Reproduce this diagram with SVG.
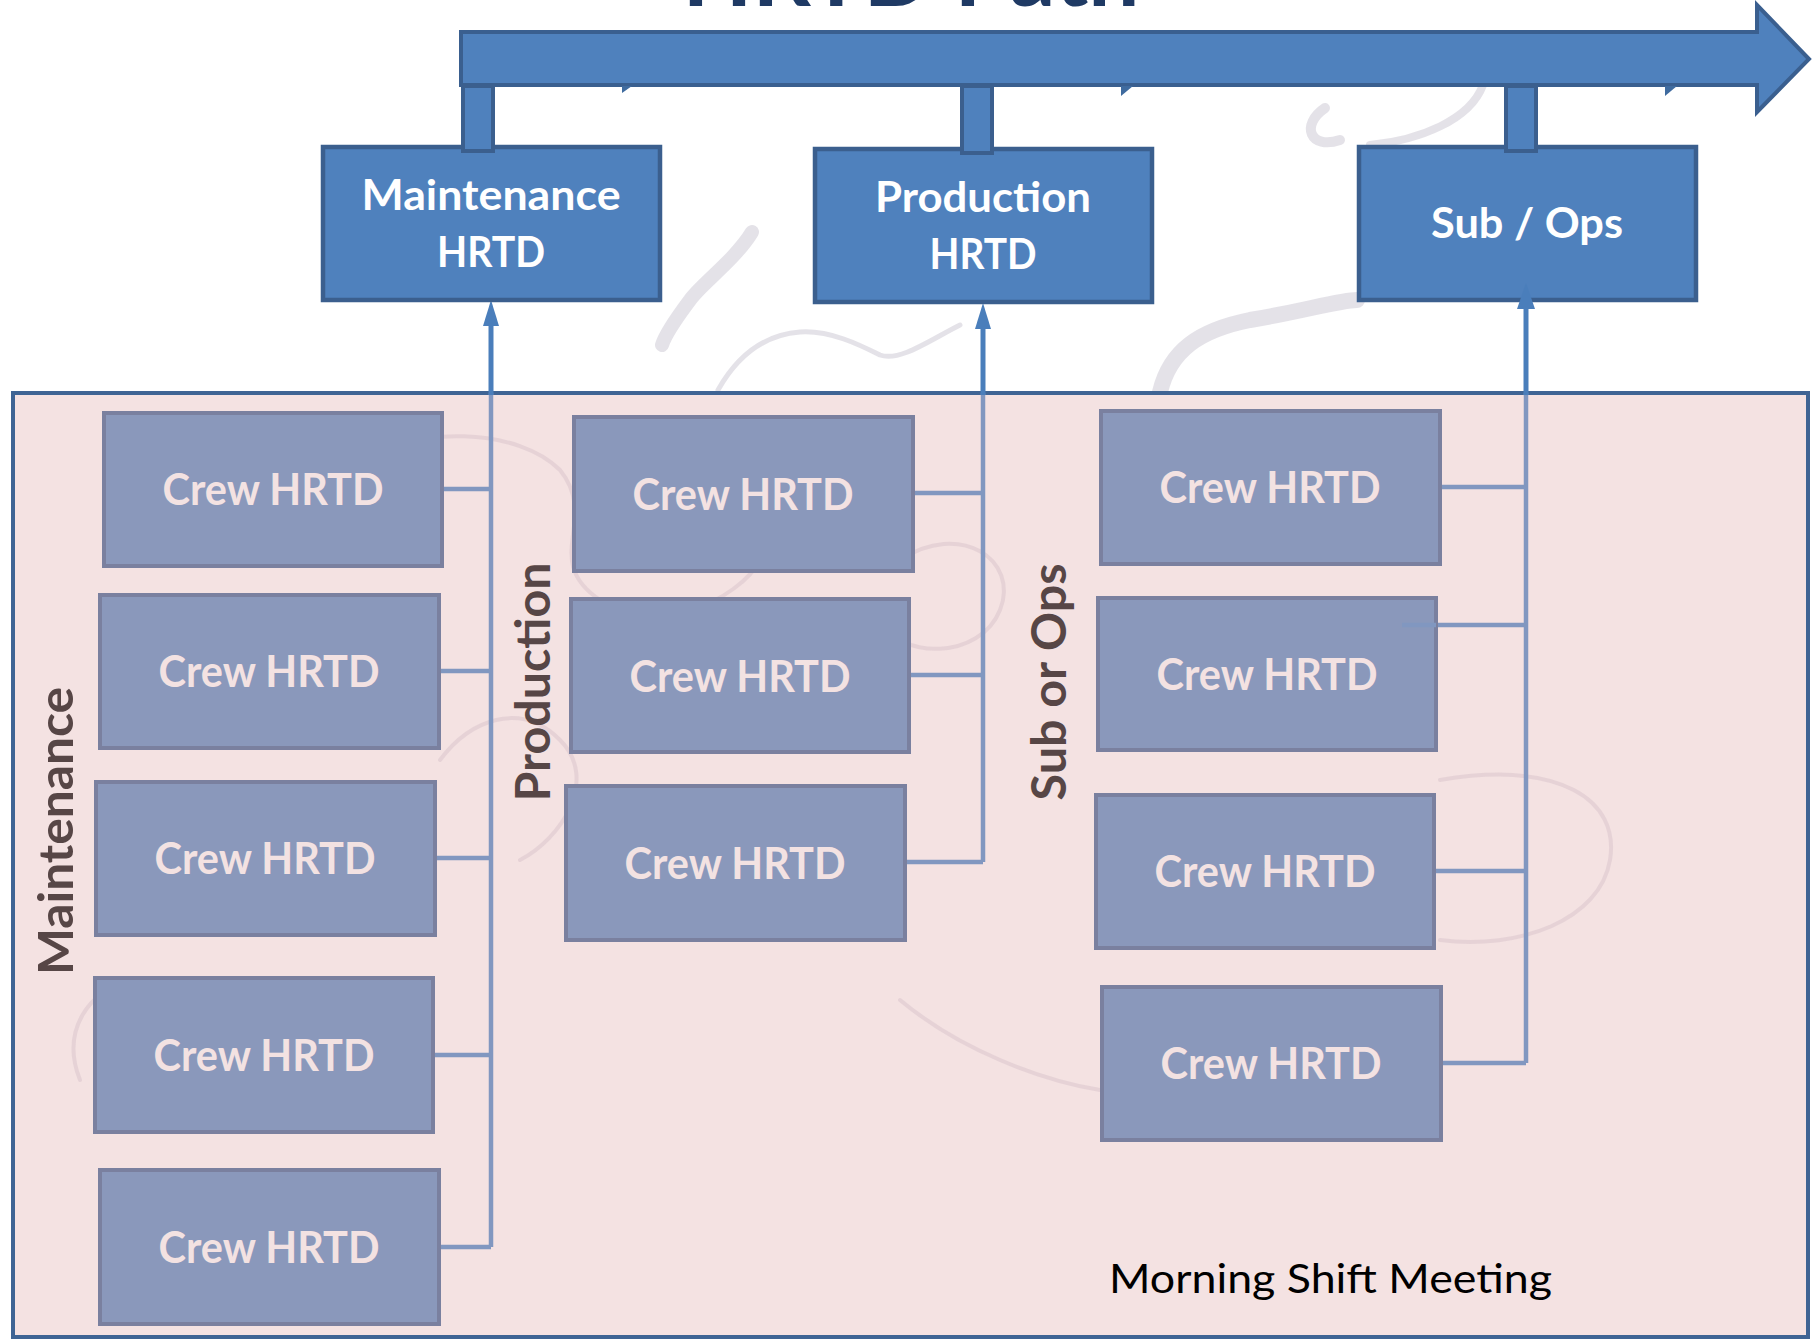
<svg xmlns="http://www.w3.org/2000/svg" width="1819" height="1339" viewBox="0 0 1819 1339">
<style>
.title{font-family:Lato,"Open Sans","Liberation Sans",sans-serif;font-weight:700;font-size:96px;fill:#1F3A64;text-anchor:middle}
.top rect.box{fill:#4F81BD;stroke:#3B5F8E;stroke-width:4.5}
.stem{fill:#4F81BD;stroke:#3B5F8E;stroke-width:4}
.toptxt{font-family:Lato,"Open Sans","Liberation Sans",sans-serif;font-weight:700;font-size:42px;fill:#FFFFFF;text-anchor:middle}
.crew rect{fill:#8A98BB;stroke:#7A809F;stroke-width:4}
.crew text{font-family:Lato,"Open Sans","Liberation Sans",sans-serif;font-weight:700;font-size:43px;fill:#F3E2E2;text-anchor:middle}
.lbl{font-family:Lato,"Open Sans","Liberation Sans",sans-serif;font-weight:700;font-size:47px;fill:#574646;text-anchor:middle}
.conn{fill:none;stroke:#8197C0;stroke-width:4.5}
.connUp{fill:none;stroke:#4A7EBB;stroke-width:5}
.swirl{fill:none;stroke:#D9D6DE;stroke-linecap:round;opacity:0.7}
.swirlIn{fill:none;stroke:#E2CED3;stroke-linecap:round;opacity:0.8}
</style>
<defs>
<marker id="ah" markerUnits="userSpaceOnUse" markerWidth="28" markerHeight="18" refX="0" refY="8" orient="auto">
<path d="M0,0 L26,8 L0,16 Z" fill="#4A7EBB"/>
</marker>
</defs>
<rect x="0" y="0" width="1819" height="1339" fill="#FFFFFF"/>

<g id="background">
<path class="swirl" stroke-width="14" d="M752,232 C735,260 700,285 690,300 C675,320 665,335 662,345"/>
<path class="swirl" stroke-width="5" d="M718,390 C735,360 760,335 800,332 C830,330 860,345 880,355 C900,362 930,340 960,325"/>
<path class="swirl" stroke-width="10" d="M1325,108 C1300,125 1310,150 1340,140"/>
<path class="swirl" stroke-width="16" d="M1160,392 C1170,350 1200,330 1250,320 C1300,312 1340,300 1357,300"/>
<path class="swirl" stroke-width="8" d="M1483,85 C1470,120 1420,140 1370,145"/>
</g>

<g id="container">
<rect x="13" y="393" width="1795" height="944" fill="#F4E2E2" stroke="#3F6494" stroke-width="4"/>
<path class="swirlIn" stroke-width="4" d="M330,470 C420,420 520,430 560,470 C600,520 540,560 600,600 C650,640 740,600 760,560"/>
<path class="swirlIn" stroke-width="4" d="M440,760 C470,720 520,700 560,740 C600,780 560,840 520,860"/>
<path class="swirlIn" stroke-width="4" d="M900,560 C960,520 1020,560 1000,610 C980,660 900,660 880,620"/>
<path class="swirlIn" stroke-width="4" d="M1440,780 C1560,760 1620,800 1610,860 C1600,920 1520,950 1440,940"/>
<path class="swirlIn" stroke-width="4" d="M900,1000 C960,1050 1040,1080 1100,1090"/>
<path class="swirlIn" stroke-width="4" d="M80,1080 C60,1030 90,990 130,980"/>
</g>

<g id="connectors">
<path class="conn" d="M491,1247 V393"/>
<path class="conn" d="M442,489 H491 M439,671 H491 M435,858 H491 M433,1055 H491 M439,1247 H491"/>
<path class="connUp" d="M491,395 V326" marker-end="url(#ah)"/>
<path class="conn" d="M983,862 V393"/>
<path class="conn" d="M913,493 H983 M909,675 H983 M905,862 H983"/>
<path class="connUp" d="M983,395 V329" marker-end="url(#ah)"/>
<path class="conn" d="M1526,1063 V393"/>
<path class="conn" d="M1440,487 H1526 M1402,625 H1526 M1434,871 H1526 M1441,1063 H1526"/>
<path class="connUp" d="M1526,395 V309" marker-end="url(#ah)"/>
</g>

<g id="title">
<text class="title" x="911" y="6" textLength="457" lengthAdjust="spacingAndGlyphs">HRTD Path</text>
</g>

<g id="hrtd-path-arrow">
<rect class="stem" x="463" y="80" width="30" height="71"/>
<rect class="stem" x="962" y="80" width="30" height="73"/>
<rect class="stem" x="1506" y="80" width="30" height="71"/>
<polygon points="461,32 1757,32 1757,5 1809,59 1757,112 1757,85 461,85" fill="#4F81BD" stroke="#3A5F8F" stroke-width="4" stroke-linejoin="miter"/>
<polygon points="622,86 622,93 632,86" fill="#3F6B9F"/>
<polygon points="1121,86 1121,96 1133,86" fill="#3F6B9F"/>
<polygon points="1665,86 1665,96 1677,86" fill="#3F6B9F"/>
</g>

<g id="maintenance-hrtd" class="top">
<rect class="box" x="323" y="147" width="337" height="153"/>
<rect class="stem" x="463" y="86" width="30" height="65"/>
<text class="toptxt" x="491" y="210" textLength="259" lengthAdjust="spacingAndGlyphs">Maintenance</text>
<text class="toptxt" x="491" y="267" textLength="108" lengthAdjust="spacingAndGlyphs">HRTD</text>
</g>
<g id="production-hrtd" class="top">
<rect class="box" x="815" y="149" width="337" height="153"/>
<rect class="stem" x="962" y="86" width="30" height="67"/>
<text class="toptxt" x="983" y="212" textLength="216" lengthAdjust="spacingAndGlyphs">Production</text>
<text class="toptxt" x="983" y="269" textLength="107" lengthAdjust="spacingAndGlyphs">HRTD</text>
</g>
<g id="sub-ops-hrtd" class="top">
<rect class="box" x="1359" y="147" width="337" height="153"/>
<rect class="stem" x="1506" y="86" width="30" height="65"/>
<text class="toptxt" x="1527" y="238" textLength="192" lengthAdjust="spacingAndGlyphs">Sub / Ops</text>
<path class="connUp" d="M1526,300 V309"/>
<path d="M1517,309 L1526,283 L1535,309 Z" fill="#4A7EBB"/>
</g>

<g id="label-maintenance"><text class="lbl" transform="translate(73,831) rotate(-90)" textLength="288" lengthAdjust="spacingAndGlyphs">Maintenance</text></g>
<g id="label-production"><text class="lbl" transform="translate(550,682) rotate(-90)" textLength="239" lengthAdjust="spacingAndGlyphs">Production</text></g>
<g id="label-subops"><text class="lbl" transform="translate(1066,682) rotate(-90)" textLength="237" lengthAdjust="spacingAndGlyphs">Sub or Ops</text></g>

<g id="m-crew-1" class="crew"><rect x="104" y="413" width="338" height="153"/><text x="273" y="505" textLength="221" lengthAdjust="spacingAndGlyphs">Crew HRTD</text></g>
<g id="m-crew-2" class="crew"><rect x="100" y="595" width="339" height="153"/><text x="269" y="687" textLength="221" lengthAdjust="spacingAndGlyphs">Crew HRTD</text></g>
<g id="m-crew-3" class="crew"><rect x="96" y="782" width="339" height="153"/><text x="265" y="874" textLength="221" lengthAdjust="spacingAndGlyphs">Crew HRTD</text></g>
<g id="m-crew-4" class="crew"><rect x="95" y="978" width="338" height="154"/><text x="264" y="1071" textLength="221" lengthAdjust="spacingAndGlyphs">Crew HRTD</text></g>
<g id="m-crew-5" class="crew"><rect x="100" y="1170" width="339" height="154"/><text x="269" y="1263" textLength="221" lengthAdjust="spacingAndGlyphs">Crew HRTD</text></g>

<g id="p-crew-1" class="crew"><rect x="574" y="417" width="339" height="154"/><text x="743" y="510" textLength="221" lengthAdjust="spacingAndGlyphs">Crew HRTD</text></g>
<g id="p-crew-2" class="crew"><rect x="571" y="599" width="338" height="153"/><text x="740" y="692" textLength="221" lengthAdjust="spacingAndGlyphs">Crew HRTD</text></g>
<g id="p-crew-3" class="crew"><rect x="566" y="786" width="339" height="154"/><text x="735" y="879" textLength="221" lengthAdjust="spacingAndGlyphs">Crew HRTD</text></g>

<g id="s-crew-1" class="crew"><rect x="1101" y="411" width="339" height="153"/><text x="1270" y="503" textLength="221" lengthAdjust="spacingAndGlyphs">Crew HRTD</text></g>
<g id="s-crew-2" class="crew"><rect x="1098" y="598" width="338" height="152"/><text x="1267" y="690" textLength="221" lengthAdjust="spacingAndGlyphs">Crew HRTD</text></g>
<g id="s-crew-3" class="crew"><rect x="1096" y="795" width="338" height="153"/><text x="1265" y="887" textLength="221" lengthAdjust="spacingAndGlyphs">Crew HRTD</text></g>
<g id="s-crew-4" class="crew"><rect x="1102" y="987" width="339" height="153"/><text x="1271" y="1079" textLength="221" lengthAdjust="spacingAndGlyphs">Crew HRTD</text></g>

<path class="conn" d="M1402,625 H1436"/>

<g id="morning-shift-meeting">
<text x="1109" y="1293" font-family="Lato,'Open Sans','Liberation Sans',sans-serif" font-size="41" fill="#000000" textLength="443" lengthAdjust="spacingAndGlyphs">Morning Shift Meeting</text>
</g>
</svg>
